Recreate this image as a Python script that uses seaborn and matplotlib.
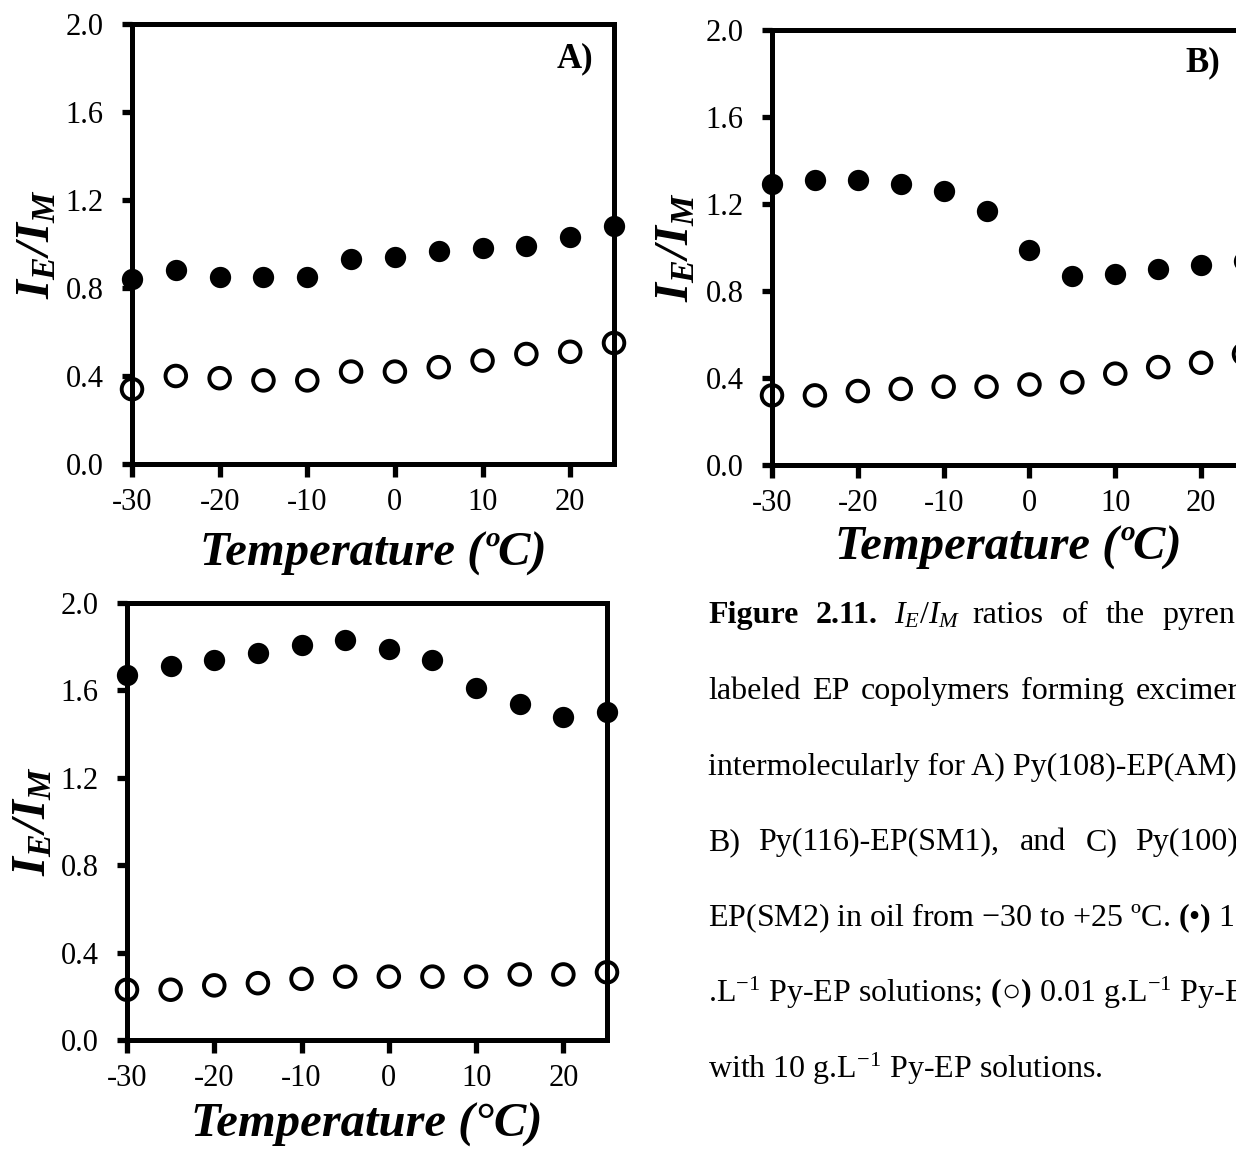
import matplotlib
matplotlib.use("Agg")
import matplotlib.pyplot as plt
import numpy as np
import pandas as pd
import seaborn as sns
from matplotlib.ticker import FixedLocator, FormatStrFormatter

# Temperatures scanned (ºC)
temperature = [-30, -25, -20, -15, -10, -5, 0, 5, 10, 15, 20, 25]

# IE/IM ratios, 10 g/L (filled) and 0.01 g/L (open) solutions
a_conc = [0.84, 0.88, 0.85, 0.85, 0.85, 0.93, 0.94, 0.97, 0.98, 0.99, 1.03, 1.08]
a_dilute = [0.34, 0.40, 0.39, 0.38, 0.38, 0.42, 0.42, 0.44, 0.47, 0.50, 0.51, 0.55]
b_conc = [1.29, 1.31, 1.31, 1.29, 1.26, 1.17, 0.99, 0.87, 0.88, 0.90, 0.92, 0.94]
b_dilute = [0.32, 0.32, 0.34, 0.35, 0.36, 0.36, 0.37, 0.38, 0.42, 0.45, 0.47, 0.51]
c_conc = [1.67, 1.71, 1.74, 1.77, 1.81, 1.83, 1.79, 1.74, 1.61, 1.54, 1.48, 1.50]
c_dilute = [0.23, 0.23, 0.25, 0.26, 0.28, 0.29, 0.29, 0.29, 0.29, 0.30, 0.30, 0.31]

panel_tags = ["A)", "B)", None]
x_titles = ["Temperature (ºC)", "Temperature (ºC)", "Temperature (°C)"]
y_title = r"$\mathbfit{I_E/I_M}$"
x_ticks = [-30, -20, -10, 0, 10, 20]
y_ticks = [0.0, 0.4, 0.8, 1.2, 1.6, 2.0]

sns.set_theme(style="white")
plt.rcParams.update({
    "font.family": ["Liberation Serif", "DejaVu Serif"],
    "mathtext.fontset": "custom",
    "mathtext.rm": "Liberation Serif",
    "mathtext.it": "Liberation Serif:italic",
    "mathtext.bf": "Liberation Serif:bold",
    "mathtext.bfit": "Liberation Serif:bold:italic",
    "axes.unicode_minus": False,
    "axes.edgecolor": "black",
    "axes.linewidth": 3.6,
})

W, H = 1236, 1150
fig = plt.figure(figsize=(W / 100, H / 100), dpi=100)


def frac_box(left, top, right, bottom):
    return [left / W, 1 - bottom / H, (right - left) / W, (bottom - top) / H]


boxes = [frac_box(132, 24, 614, 464), frac_box(772, 30, 1244, 465), frac_box(127, 603, 607, 1040)]
xlabel_y = [-0.205, -0.19, -0.194]
ylabel_x = [-0.196, -0.202, -0.196]
tag_pos = [(0.956, 0.920), (0.949, 0.924), None]
series = [(a_conc, a_dilute), (b_conc, b_dilute), (c_conc, c_dilute)]

for i, (box, (conc, dilute)) in enumerate(zip(boxes, series)):
    ax = fig.add_axes(box)
    df = pd.DataFrame({
        "T": temperature * 2,
        "ratio": conc + dilute,
        "solution": ["10 g/L"] * len(temperature) + ["0.01 g/L"] * len(temperature),
    })
    sns.scatterplot(data=df[df["solution"] == "10 g/L"], x="T", y="ratio", ax=ax,
                    color="black", s=235, linewidth=0, clip_on=False, zorder=5, legend=False)
    sns.scatterplot(data=df[df["solution"] == "0.01 g/L"], x="T", y="ratio", ax=ax,
                    facecolor="none", edgecolor="black", s=220, linewidth=2.8,
                    clip_on=False, zorder=5, legend=False)
    ax.set_xlim(-30, 25)
    ax.set_ylim(0, 2.0)
    ax.xaxis.set_major_locator(FixedLocator(x_ticks))
    ax.yaxis.set_major_locator(FixedLocator(y_ticks))
    ax.yaxis.set_major_formatter(FormatStrFormatter("%.1f"))
    ax.xaxis.set_major_formatter(FormatStrFormatter("%d"))
    ax.tick_params(axis="x", direction="out", length=9, width=3.8, color="black",
                   labelsize=22, pad=8, bottom=True, top=False, labelcolor="black")
    ax.tick_params(axis="y", direction="out", length=7.5, width=3.8, color="black",
                   labelsize=22, pad=13, left=True, right=False, labelcolor="black")
    for sp in ax.spines.values():
        sp.set_visible(True)
        sp.set_color("black")
        sp.set_linewidth(3.6)
    ax.grid(False)
    ax.set_xlabel(x_titles[i], fontsize=35, fontweight="bold", fontstyle="italic",
                  color="black", va="center")
    ax.xaxis.set_label_coords(0.5, xlabel_y[i])
    ax.set_ylabel(y_title, fontsize=35, color="black", va="center")
    ax.yaxis.set_label_coords(ylabel_x[i], 0.5)
    if panel_tags[i]:
        tx, ty = tag_pos[i]
        ax.text(tx, ty, panel_tags[i], transform=ax.transAxes, ha="right", va="center",
                fontsize=25, fontweight="bold", color="black")

# Figure caption, justified word by word where the lines are spread
cap_size = 23
x0 = 708
baselines = [623, 699, 775, 850, 926, 1002, 1078]


def put(x, y, s, **kw):
    fig.text(x / W, 1 - y / H, s, fontsize=cap_size, color="black",
             ha="left", va="baseline", **kw)


line1 = [(708, "Figure", "bold"), (815.6, "2.11.", "bold"), (893.8, r"$I_E/I_M$", "normal"),
         (972, "ratios", "normal"), (1061.7, "of", "normal"), (1105.6, "the", "normal"),
         (1162, "pyrene-", "normal")]
for x, s, w in line1:
    put(x, baselines[0], s, fontweight=w)

line2 = [(708, "labeled"), (811.7, "EP"), (860.5, "copolymers"), (1021.2, "forming"), (1136, "excimers")]
for x, s in line2:
    put(x, baselines[1], s)

put(x0, baselines[2], "intermolecularly for A) Py(108)-EP(AM),")

line4 = [(708, "B)"), (758, "Py(116)-EP(SM1),"), (1020, "and"), (1086, "C)"), (1135, "Py(100)-")]
for x, s in line4:
    put(x, baselines[3], s)

put(x0, baselines[4], "EP(SM2) in oil from \u221230 to +25 \u00baC. $\\mathbf{(}$\u2022$\\mathbf{)}$ 10 g")
put(x0, baselines[5], ".L$^{-1}$ Py-EP solutions; $\\mathbf{(}$\u25cb$\\mathbf{)}$ 0.01 g.L$^{-1}$ Py-EP solutions")
put(x0, baselines[6], "with 10 g.L$^{-1}$ Py-EP solutions.")

fig.savefig("out.png", dpi=100, facecolor="white")
